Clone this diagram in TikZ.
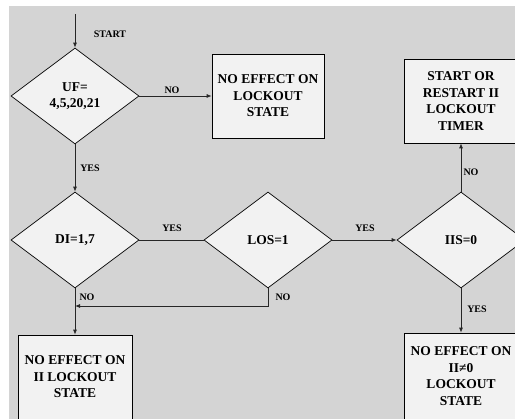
\documentclass[tikz,border=0pt]{standalone}
\usepackage{fontspec}
\setmainfont{Liberation Serif}
\usepackage{tikz}
\usetikzlibrary{shapes.geometric,arrows.meta,positioning}

\begin{document}
\begin{tikzpicture}[
            x=1pt,y=-1pt,
            arrow/.style={line width=0.8pt,-{Latex[length=5pt,width=4pt]},black!85},
            link/.style={line width=0.8pt,black!85},
            decision/.style={diamond,draw=black,line width=0.7pt,fill=boxfill,
                inner sep=0pt,minimum width=128pt,minimum height=96pt,
                align=center,font=\fontsize{13.5}{16.5}\selectfont\bfseries},
            action/.style={rectangle,draw=black,line width=0.7pt,fill=boxfill,
                inner sep=0pt,minimum width=114pt,minimum height=84pt,
                align=center,font=\fontsize{13.5}{16.5}\selectfont\bfseries},
            tag/.style={font=\fontsize{10}{12}\selectfont\bfseries,inner sep=1pt}
        ]
            \colorlet{backfill}{black!17}
            \colorlet{boxfill}{black!5}
            \clip (0,0) rectangle (515,419);
            \fill [backfill] (9,6) rectangle (515,419);
            % decisions
            \node [decision] (ufq) at (75,96) {UF=\\4,5,20,21};
            \node [decision] (diq) at (75,240) {DI=1,7};
            \node [decision] (losq) at (268,240) {LOS=1};
            \node [decision] (iisq) at (461,240) {IIS=0};
            % outcomes
            \node [action,minimum width=112pt] (nolock) at (268,96) {NO EFFECT ON\\LOCKOUT\\STATE};
            \node [action] (timer) at (461,101) {START OR\\RESTART II\\LOCKOUT\\TIMER};
            \node [action,minimum height=86pt] (noiinz) at (461,376) {NO EFFECT ON\\II≠0\\LOCKOUT\\STATE};
            \node [action] (noii) at (75,377) {NO EFFECT ON\\II LOCKOUT\\STATE};
            \coordinate (start) at (75,14);
            \coordinate (merge) at (75,306);
            % connectors
            \draw [arrow] (start) -- (ufq.north);
            \node [tag] (starttag) at (110,34) {START};
            \draw [arrow] (ufq.east) -- (nolock.west);
            \node [tag] (ufno) at (172,90) {NO};
            \draw [arrow] (ufq.south) -- (diq.north);
            \node [tag] (ufyes) at (90,168) {YES};
            \draw [link] (diq.east) -- (losq.west);
            \node [tag] (diyes) at (172,228) {YES};
            \draw [arrow] (losq.east) -- (iisq.west);
            \node [tag] (losyes) at (365,228) {YES};
            \draw [arrow] (iisq.north) -- (timer.south);
            \node [tag] (iisno) at (471,172) {NO};
            \draw [arrow] (iisq.south) -- (noiinz.north);
            \node [tag] (iisyes) at (477,309) {YES};
            \draw [arrow] (losq.south) |- (merge);
            \node [tag] (losno) at (283,297) {NO};
            \draw [arrow] (diq.south) -- (noii.north);
            \node [tag] (dino) at (87,297) {NO};
        \end{tikzpicture}
\end{document}
